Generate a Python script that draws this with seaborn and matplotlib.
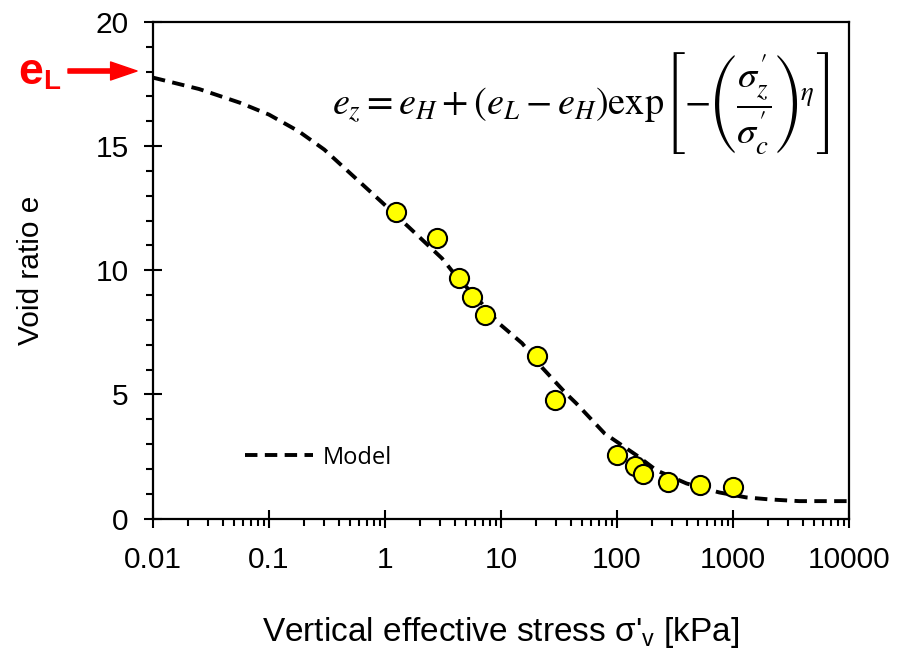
import numpy as np
import pandas as pd
import matplotlib
matplotlib.use("Agg")
import matplotlib.pyplot as plt
import matplotlib.ticker as mticker
import seaborn as sns

# ── data ─────────────────────────────────────────────────────
test_stress = [1.24, 2.82, 4.35, 5.6, 7.3, 20.4, 29.2, 100, 143, 166, 275, 520, 1000]
test_void = [12.36, 11.31, 9.70, 8.93, 8.21, 6.55, 4.78, 2.56, 2.12, 1.80, 1.47, 1.35, 1.27]

model_stress = [0.01, 0.025, 0.056, 0.1, 0.18, 0.3, 0.94, 1.61, 3.1, 4.18, 6.46, 9.6,
                15.2, 22.5, 36.3, 44.5, 78, 148, 219, 398, 760, 1300, 2050, 3720, 10000]
model_void = [17.76, 17.3, 16.75, 16.27, 15.6, 14.86, 12.74, 11.73, 10.48, 9.72, 8.79, 7.86,
              7.06, 6.09, 5.04, 4.64, 3.43, 2.54, 1.94, 1.41, 1.05, 0.85, 0.77, 0.70, 0.70]

x_ticks = [0.01, 0.1, 1, 10, 100, 1000, 10000]
x_labels = ["0.01", "0.1", "1", "10", "100", "1000", "10000"]
y_ticks = [0, 5, 10, 15, 20]

tests = pd.DataFrame({"stress": test_stress, "void": test_void})
model = pd.DataFrame({"stress": model_stress, "void": model_void})

# ── style ────────────────────────────────────────────────────
sns.set_style("ticks")
plt.rcParams["font.family"] = ["Liberation Sans", "DejaVu Sans"]
plt.rcParams["axes.linewidth"] = 1.6
plt.rcParams["axes.edgecolor"] = "black"
plt.rcParams["text.color"] = "black"
plt.rcParams["axes.labelcolor"] = "black"
plt.rcParams["xtick.color"] = "black"
plt.rcParams["ytick.color"] = "black"

fig = plt.figure(figsize=(9.04, 6.57), dpi=100)
ax = fig.add_axes([0.1692, 0.2108, 0.770, 0.7557])

sns.lineplot(data=model, x="stress", y="void", ax=ax, color="black", lw=2.8,
             linestyle=(0, (3.2, 1.9)), label="Model", sort=False, zorder=2)
sns.scatterplot(data=tests, x="stress", y="void", ax=ax, color="#ffff00",
                edgecolor="black", linewidth=1.5, s=190, zorder=3, legend=False)

ax.set_xscale("log")
ax.set_xlim(0.01, 10000)
ax.set_ylim(0, 20)
ax.set_xticks(x_ticks)
ax.set_xticklabels(x_labels)
ax.xaxis.set_minor_locator(mticker.LogLocator(base=10, subs=np.arange(2, 10), numticks=20))
ax.xaxis.set_minor_formatter(mticker.NullFormatter())
ax.set_yticks(y_ticks)
ax.yaxis.set_minor_locator(mticker.MultipleLocator(1))

ax.tick_params(axis="both", which="major", direction="inout", length=13, width=1.5,
               labelsize=21.5)
ax.tick_params(axis="x", which="major", pad=13)
ax.tick_params(axis="y", which="major", pad=11)
ax.tick_params(axis="both", which="minor", direction="out", length=5, width=1.5)

ax.set_xlabel("Vertical effective stress σ'$_\\mathregular{v}$ [kPa]", fontsize=24, labelpad=30)
ax.set_ylabel("Void ratio e", fontsize=21.5, labelpad=36)

leg = ax.legend(loc="center left", bbox_to_anchor=(0.132, 0.1225), frameon=False,
                borderaxespad=0, borderpad=0, handlelength=2.9, handletextpad=0.4,
                prop={"family": "Open Sans", "size": 17})

# model equation
ax.text(0.615, 0.837,
        r"$e_z = e_H + \left(e_L - e_H\right)\mathrm{exp}\left[-\left(\dfrac{\sigma_z^{\prime}}{\sigma^{\prime}_c}\right)^{\eta}\right]$",
        transform=ax.transAxes, ha="center", va="center", fontsize=27.5,
        math_fontfamily="stix")

# e_L marker arrow
fig.text(18 / 904, 1 - 72 / 657, "e", color="red", fontsize=32, fontweight="bold",
         ha="left", va="center")
fig.text(43 / 904, 1 - 82 / 657, "L", color="red", fontsize=20, fontweight="bold",
         ha="left", va="center")
ax.annotate("", xy=(137 / 904, 1 - 71 / 657), xytext=(68 / 904, 1 - 71 / 657),
            xycoords="figure fraction", textcoords="figure fraction",
            arrowprops=dict(color="red", width=3.0, headwidth=13, headlength=19, shrink=0))

fig.savefig("out.png", dpi=100)
